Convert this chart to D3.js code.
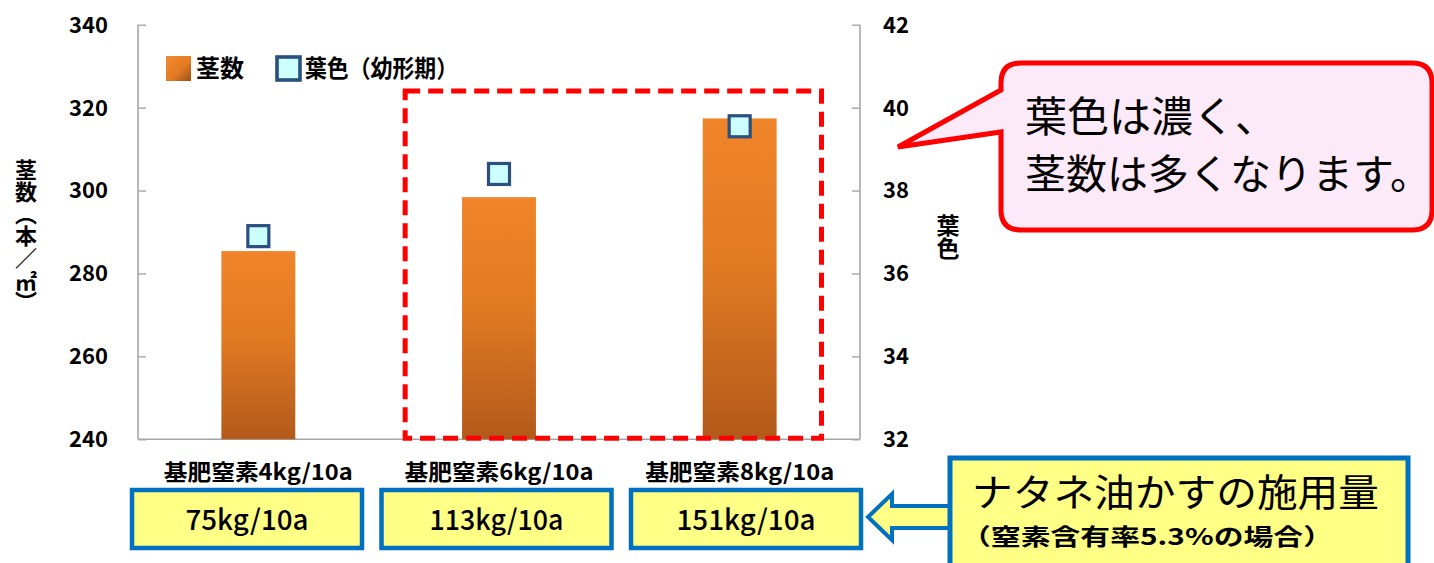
<!DOCTYPE html>
<html><head><meta charset="utf-8">
<script src="https://cdn.jsdelivr.net/npm/d3@7"></script>
<style>
html,body{margin:0;padding:0;background:#fff;}
svg{display:block;font-family:"Noto Sans CJK JP","Noto Sans",sans-serif;}
</style></head>
<body><svg id="c" width="1434" height="563"></svg>
<script>
// ---- data ----
const categories = ["基肥窒素4kg/10a", "基肥窒素6kg/10a", "基肥窒素8kg/10a"];
const stemCounts = [285.4, 298.4, 317.4];          // 茎数（本／㎡）
const leafColor = [36.9, 38.4, 39.55];              // 葉色（幼形期）
const applicationAmounts = ["75kg/10a", "113kg/10a", "151kg/10a"];
const leftTicks = [240, 260, 280, 300, 320, 340];
const rightTicks = [32, 34, 36, 38, 40, 42];
const seriesNames = ["茎数", "葉色（幼形期）"];
const leftTitle = "茎数（本／㎡）";
const rightTitle = "葉色";
const calloutLines = ["葉色は濃く、", "茎数は多くなります。"];
const noteLines = ["ナタネ油かすの施用量", "（窒素含有率5.3%の場合）"];

// ---- layout ----
const svg = d3.select("#c");
const L = 138, R = 860, T = 24.7, B = 439.3;
const x = d3.scaleBand().domain(categories).range([L, R]).padding(0);
const yL = d3.scaleLinear().domain([240, 340]).range([B, T]);
const yR = d3.scaleLinear().domain([32, 42]).range([B, T]);
const barW = x.bandwidth() * 0.307;

const defs = svg.append("defs");
const g1 = defs.append("linearGradient").attr("id", "barGrad").attr("x1", 0).attr("y1", 0).attr("x2", 0).attr("y2", 1);
g1.append("stop").attr("offset", "0%").attr("stop-color", "#f0842a");
g1.append("stop").attr("offset", "45%").attr("stop-color", "#e27a22");
g1.append("stop").attr("offset", "100%").attr("stop-color", "#b25a1b");
const g2 = defs.append("linearGradient").attr("id", "legGrad").attr("x1", 0).attr("y1", 0).attr("x2", 1).attr("y2", 1);
g2.append("stop").attr("offset", "0%").attr("stop-color", "#f08a30");
g2.append("stop").attr("offset", "55%").attr("stop-color", "#e57c24");
g2.append("stop").attr("offset", "100%").attr("stop-color", "#9c4e18");

// axes
const axisColor = "#a6a6a6";
const axL = svg.append("g").attr("transform", `translate(${L},0)`)
  .call(d3.axisRight(yL).tickValues(leftTicks).tickSize(8).tickFormat(""));
const axR = svg.append("g").attr("transform", `translate(${R},0)`)
  .call(d3.axisLeft(yR).tickValues(rightTicks).tickSize(8).tickFormat(""));
[axL, axR].forEach(a => {
  a.select(".domain").attr("stroke", axisColor).attr("stroke-width", 1.6).attr("d", `M0,${T}V${B}`);
  a.selectAll(".tick line").attr("stroke", axisColor).attr("stroke-width", 1.4);
});
svg.append("line").attr("x1", L).attr("x2", R).attr("y1", B).attr("y2", B)
  .attr("stroke", axisColor).attr("stroke-width", 1.6);

// tick labels
svg.append("g").selectAll("text").data(leftTicks).join("text")
  .attr("x", 108).attr("y", d => yL(d)).attr("dy", "0.36em")
  .attr("text-anchor", "end").attr("font-size", 22).attr("font-weight", 700)
  .attr("fill", "#000").text(d => d);
svg.append("g").selectAll("text").data(rightTicks).join("text")
  .attr("x", 883).attr("y", d => yR(d)).attr("dy", "0.36em")
  .attr("text-anchor", "start").attr("font-size", 22).attr("font-weight", 700)
  .attr("fill", "#000").text(d => d);

// axis titles (vertical)
svg.append("text").attr("x", 26).attr("y", 159)
  .style("writing-mode", "vertical-rl").attr("font-size", 22).attr("font-weight", 700)
  .text(leftTitle);
svg.append("text").attr("x", 948).attr("y", 214)
  .style("writing-mode", "vertical-rl").attr("font-size", 23).attr("font-weight", 700)
  .text(rightTitle);

// bars
svg.append("g").selectAll("rect").data(categories).join("rect")
  .attr("x", (d) => x(d) + x.bandwidth() / 2 - barW / 2)
  .attr("width", barW)
  .attr("y", (d, i) => yL(stemCounts[i]))
  .attr("height", (d, i) => B - yL(stemCounts[i]))
  .attr("fill", "url(#barGrad)");

// markers
const ms = 21;
svg.append("g").selectAll("rect").data(categories).join("rect")
  .attr("x", d => x(d) + x.bandwidth() / 2 - ms / 2)
  .attr("y", (d, i) => yR(leafColor[i]) - ms / 2)
  .attr("width", ms).attr("height", ms)
  .attr("fill", "#ccffff").attr("stroke", "#2b4f7e").attr("stroke-width", 3.2);

// red dashed box around categories 2 and 3
const bx0 = x(categories[1]) + 26.5, bx1 = x(categories[2]) + x.bandwidth() - 38.5;
svg.append("rect").attr("x", bx0).attr("y", yL(324)).attr("width", bx1 - bx0).attr("height", B - 1 - yL(324))
  .attr("fill", "none").attr("stroke", "#ff0000").attr("stroke-width", 5).attr("stroke-dasharray", "15,8");

// legend
svg.append("rect").attr("x", 166).attr("y", 56).attr("width", 25).attr("height", 25).attr("fill", "url(#legGrad)");
svg.append("text").attr("x", 196).attr("y", 77).attr("font-size", 24).attr("font-weight", 700).text(seriesNames[0]);
svg.append("rect").attr("x", 277).attr("y", 57).attr("width", 23).attr("height", 23)
  .attr("fill", "#ccffff").attr("stroke", "#2b4f7e").attr("stroke-width", 3.6);
svg.append("text").attr("x", 305).attr("y", 77).attr("font-size", 24).attr("font-weight", 700)
  .attr("textLength", 153).attr("lengthAdjust", "spacingAndGlyphs").text(seriesNames[1]);

// category labels
svg.append("g").selectAll("text").data(categories).join("text")
  .attr("x", d => x(d) + x.bandwidth() / 2).attr("y", 480)
  .attr("text-anchor", "middle").attr("font-size", 22).attr("font-weight", 700)
  .attr("textLength", 189).attr("lengthAdjust", "spacingAndGlyphs").text(d => d);

// application boxes
const xb = d3.scaleBand().domain(categories).range([122.25, 870.75]).padding(0);
const boxW = 230;
const bg = svg.append("g").selectAll("g").data(categories).join("g");
bg.append("rect")
  .attr("x", d => xb(d) + xb.bandwidth() / 2 - boxW / 2).attr("y", 490)
  .attr("width", boxW).attr("height", 58)
  .attr("fill", "#ffff85").attr("stroke", "#0070c0").attr("stroke-width", 4.5);
bg.append("text")
  .attr("x", d => xb(d) + xb.bandwidth() / 2).attr("y", 530)
  .attr("text-anchor", "middle").attr("font-size", 28).attr("font-weight", 500)
  .attr("textLength", (d, i) => [123, 134, 139][i]).attr("lengthAdjust", "spacingAndGlyphs")
  .text((d, i) => applicationAmounts[i]);

// arrow
svg.append("path")
  .attr("d", "M868,517 L892,494 L892,506 L952,506 L952,528 L892,528 L892,540 Z")
  .attr("fill", "#ffff85").attr("stroke", "#0070c0").attr("stroke-width", 4).attr("stroke-linejoin", "miter");

// note box
svg.append("rect").attr("x", 950).attr("y", 458).attr("width", 458).attr("height", 120)
  .attr("fill", "#ffff85").attr("stroke", "#0070c0").attr("stroke-width", 5);
svg.append("text").attr("x", 972).attr("y", 506).attr("font-size", 38)
  .attr("textLength", 407).attr("lengthAdjust", "spacingAndGlyphs").text(noteLines[0]);
svg.append("text").attr("x", 961).attr("y", 545).attr("font-size", 23).attr("font-weight", 700)
  .attr("textLength", 372).attr("lengthAdjust", "spacingAndGlyphs").text(noteLines[1]);

// callout
svg.append("path")
  .attr("d", "M1021,63 H1412 Q1432,63 1432,83 V210 Q1432,230 1412,230 H1021 Q1001,230 1001,210 V132 L898,147 L1001,90 V83 Q1001,63 1021,63 Z")
  .attr("fill", "#fdeaf9").attr("stroke", "#ff0000").attr("stroke-width", 5).attr("stroke-linejoin", "miter");
svg.append("text").attr("x", 1025).attr("y", 132).attr("font-size", 42).text(calloutLines[0]);
svg.append("text").attr("x", 1025).attr("y", 189).attr("font-size", 41)
  .attr("textLength", 406).attr("lengthAdjust", "spacingAndGlyphs").text(calloutLines[1]);
</script></body></html>
